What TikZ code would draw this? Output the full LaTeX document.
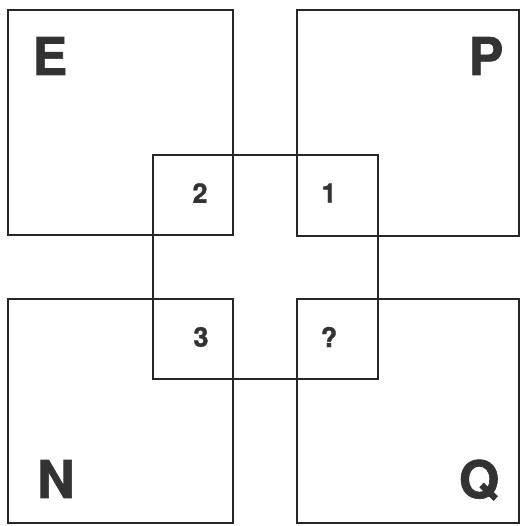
\documentclass[tikz,border=0pt]{standalone}
\usepackage{fontspec}
\setmainfont{TeX Gyre Heros}
\newfontfamily\heavyfont[BoldFeatures={FakeBold=1.2}]{TeX Gyre Heros}
\begin{document}
\begin{tikzpicture}[x=1pt,y=-1pt,
  sq/.style={draw=black!85, line width=2.9pt},
  bigl/.style={font=\heavyfont\fontsize{52}{52}\selectfont\bfseries, text=black!80, inner sep=0pt},
  digit/.style={font=\heavyfont\fontsize{27}{27}\selectfont\bfseries, text=black!80, inner sep=0pt}]
\useasboundingbox (0,0) rectangle (521,526);
\draw[sq] (8,10) rectangle (233,235);
\draw[sq] (297,10) rectangle (519,236);
\draw[sq] (8,299) rectangle (233,523);
\draw[sq] (297,299) rectangle (519,523);
\draw[sq] (153,155) rectangle (378,379);
\node[bigl] (E) at (50,56) {E};
\node[bigl] (P) at (486,56) {P};
\node[bigl] (N) at (56,479) {N};
\node[bigl] (Q) at (479,480) {Q};
\node[digit] (n2) at (200,193) {2};
\node[digit] (n1) at (329,193) {1};
\node[digit] (n3) at (201,337) {3};
\node[digit] (nq) at (329,337) {?};
\end{tikzpicture}
\end{document}
